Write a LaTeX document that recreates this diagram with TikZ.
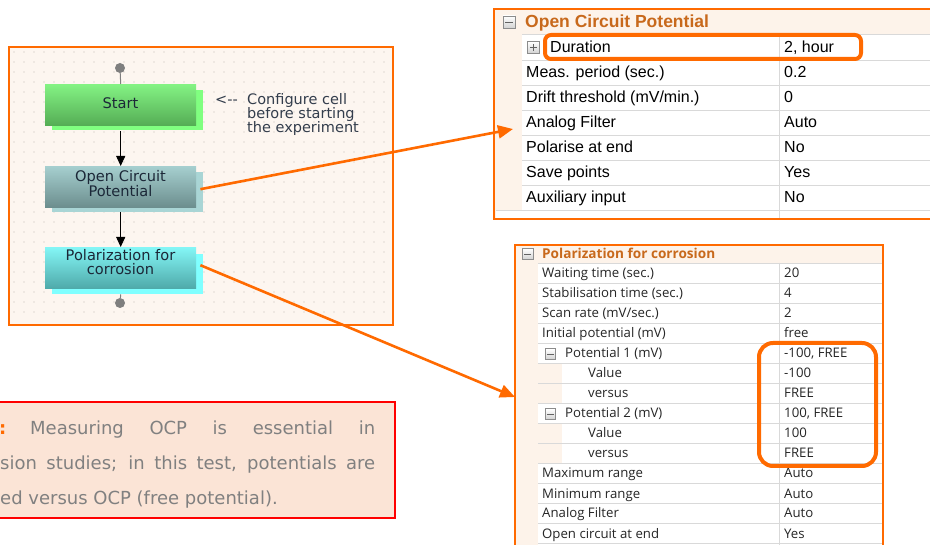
\documentclass[tikz,border=0pt]{standalone}
\usepackage{fontspec}
\setmainfont{DejaVu Sans}
\newfontfamily\arialf{Liberation Sans}
\newfontfamily\segf{Open Sans}
\usetikzlibrary{arrows.meta,calc}
\definecolor{org}{HTML}{FF6A00}
\definecolor{panelbg}{HTML}{FDF6F0}
\definecolor{dotc}{HTML}{C2BCB6}
\definecolor{tabbg}{HTML}{FDF3EA}
\definecolor{hdrc}{HTML}{C8691C}
\definecolor{rowline}{HTML}{D9D9D9}
\definecolor{notebg}{HTML}{FBE4D6}
\definecolor{notetxt}{HTML}{808080}
\definecolor{flowtxt}{HTML}{1C2838}
\definecolor{gnA}{HTML}{84F384}
\definecolor{gnB}{HTML}{55AD55}
\definecolor{gnS}{HTML}{80FF80}
\definecolor{teA}{HTML}{A6CFCF}
\definecolor{teB}{HTML}{6C8E8E}
\definecolor{teS}{HTML}{A9D5D5}
\definecolor{cyA}{HTML}{84F6F6}
\definecolor{cyB}{HTML}{4FAAAA}
\definecolor{cyS}{HTML}{80FFFF}
\definecolor{boxgray}{HTML}{8C8C8C}
\definecolor{termc}{HTML}{7F7F7F}
\tikzset{
 flowbox/.style={anchor=north west, minimum width=151pt, minimum height=41pt, inner sep=0pt},
 flowtext/.style={align=center, text=flowtxt, font=\fontsize{14.6}{14}\selectfont, inner sep=0pt},
 shadowbox/.style={anchor=north west, minimum width=151pt, minimum height=40pt, inner sep=0pt},
 termdot/.style={circle, fill=termc, inner sep=0pt, minimum size=10pt},
 cfgtext/.style={anchor=base west, inner sep=0pt, text=flowtxt!90, font=\fontsize{14.5}{14}\selectfont},
 flowarrow/.style={draw=black, line width=1pt, -{Triangle[width=9pt,length=10pt]}},
 callout/.style={draw=org, line width=2.6pt, -{Triangle[width=13pt,length=15pt]}},
 tabA/.style={anchor=base west, inner sep=0pt, text=black, font=\arialf\fontsize{16}{18}\selectfont},
 tabB/.style={anchor=base west, inner sep=0pt, text=black!85, font=\segf\fontsize{13.2}{14}\selectfont},
 notetext/.style={anchor=base west, inner sep=0pt, text=notetxt, font=\fontsize{18}{20}\selectfont},
 expminus/.pic={\draw[draw=boxgray, line width=0.8pt, top color=white, bottom color=gray!35] (-6,-6) rectangle (6,6);
   \draw[boxgray!70!black, line width=0.9pt] (-3.8,0) -- (3.8,0);},
 expplus/.pic={\draw[draw=boxgray, line width=0.8pt, top color=white, bottom color=gray!35] (-6,-6) rectangle (6,6);
   \draw[boxgray!70!black, line width=0.9pt] (-3.8,0) -- (3.8,0) (0,-3.8) -- (0,3.8);}
}
\begin{document}
\begin{tikzpicture}[x=1pt,y=-1pt]
\useasboundingbox (0,0) rectangle (930,545);
\clip (0,0) rectangle (930,545);
\fill[white] (0,0) rectangle (930,545);

% ---------------- left flow panel ----------------
\node[draw=org, line width=2pt, fill=panelbg, minimum width=384pt, minimum height=278pt, inner sep=0pt, anchor=north west] (panel) at (8,46) {};
\foreach \i in {0,...,37}{\foreach \j in {0,...,26}{\fill[dotc] (14+10*\i,52+10*\j) circle (0.6);}}

% shadows
\node[shadowbox, fill=gnS] (startsh) at (52,90) {};
\node[shadowbox, fill=teS] (ocpsh) at (52,172) {};
\node[shadowbox, fill=cyS] (polsh) at (52,254) {};
% boxes
\node[flowbox, top color=gnA, bottom color=gnB] (start) at (45,84) {};
\node[flowbox, top color=teA, bottom color=teB] (ocp) at (45,166) {};
\node[flowbox, top color=cyA, bottom color=cyB] (pol) at (45,247) {};
\node[flowtext] (startt) at (120.5,103) {Start};
\node[flowtext] (ocpt) at (120.5,183.5) {Open Circuit\\Potential};
\node[flowtext] (polt) at (120.5,262) {Polarization for\\corrosion};

\node[termdot] (d1) at (120,68) {};
\node[termdot] (d2) at (120,303) {};
\draw[termc, line width=1pt] (d1) -- (start.north);
\draw[termc, line width=1pt] (pol.south) ++(0,6) -- (d2);
\draw[flowarrow, shorten <=6pt] (start.south) -- (ocp.north);
\draw[flowarrow, shorten <=5pt] (ocp.south) -- (pol.north);

\node[cfgtext] (cfgarrow) at (215,105) {<-{}-};
\node[cfgtext] (cfg1) at (247,105) {Configure cell};
\node[cfgtext] (cfg2) at (247,119) {before starting};
\node[cfgtext] (cfg3) at (247,133) {the experiment};

% ---------------- top table: Open Circuit Potential ----------------
\draw[org, line width=2pt, fill=tabbg] (494,9) rectangle (940,219);
\fill[white] (522,34) rectangle (940,210);
\fill[white] (496,210) rectangle (940,218);
\foreach \k in {34,60,85,110,135,160,185}{\draw[rowline, line width=0.8pt] (522,\k) -- (940,\k);}
\draw[rowline, line width=0.8pt] (496,210) -- (940,210);
\draw[rowline, line width=0.8pt] (779,34) -- (779,218);
\pic at (509,22) {expminus};
\node[anchor=base west, inner sep=0pt, text=hdrc, font=\arialf\bfseries\fontsize{17.5}{20}\selectfont] (ocphdr) at (525,28) {Open Circuit Potential};
\pic[scale=0.95] at (533.5,47.5) {expplus};
\node[tabA] (r1) at (550,53) {Duration};
\node[tabA] (v1) at (784,53) {2, hour};
\foreach \n/\v [count=\i] in {{Meas. period (sec.)}/0.2, {Drift threshold (mV/min.)}/0, {Analog Filter}/Auto, {Polarise at end}/No, {Save points}/Yes, {Auxiliary input}/No}{
  \node[tabA] (ra\i) at (526,53+25*\i) {\n};
  \node[tabA] (va\i) at (784,53+25*\i) {\v};
}
\draw[org, line width=4pt, rounded corners=6pt] (545,35) rectangle (861,59);
\coordinate (ocpin) at (513,129);

% ---------------- bottom table: Polarization for corrosion ----------------
\draw[org, line width=1.6pt, fill=tabbg] (515,245) rectangle (883,560);
\fill[white] (538,263) rectangle (882,560);
\fill[tabbg] (538,363) rectangle (562,403);
\fill[tabbg] (538,423) rectangle (562,463);
\foreach \k in {263,283,...,543}{\draw[rowline, line width=0.8pt] (538,\k) -- (882,\k);}
\draw[rowline, line width=0.8pt] (779,263) -- (779,560);
\pic[scale=0.9] at (527.5,254) {expminus};
\node[anchor=base west, inner sep=0pt, text=hdrc, font=\segf\bfseries\fontsize{13.6}{14}\selectfont] (polhdr) at (542,258.5) {Polarization for corrosion};
\foreach \n/\v/\x [count=\i from 0] in {{Waiting time (sec.)}/20/542, {Stabilisation time (sec.)}/4/542, {Scan rate (mV/sec.)}/2/542, {Initial potential (mV)}/free/542, {Potential 1 (mV)}/{-100, FREE}/565, Value/-100/588, versus/FREE/588, {Potential 2 (mV)}/{100, FREE}/565, Value/100/588, versus/FREE/588, {Maximum range}/Auto/542, {Minimum range}/Auto/542, {Analog Filter}/Auto/542, {Open circuit at end}/Yes/542}{
  \node[tabB] (rb\i) at (\x,278+20*\i) {\n};
  \node[tabB] (vb\i) at (784,278+20*\i) {\v};
}
\pic[scale=0.85] at (550.5,354) {expminus};
\pic[scale=0.85] at (550.5,414) {expminus};
\draw[org, line width=4pt, rounded corners=14pt] (759,343) rectangle (876,466);
\coordinate (polin) at (515,397);

% ---------------- callout arrows ----------------
\draw[callout] ($(ocp.east)+(4,2.5)$) -- (ocpin);
\draw[callout] ($(pol.east)+(4,-2.5)$) -- (polin);

% ---------------- note ----------------
\node[draw=red, line width=2pt, fill=notebg, minimum width=410pt, minimum height=116pt, inner sep=0pt, anchor=north east] (note) at (396,401) {};
\node[anchor=base west, inner sep=0pt, text=org, font=\bfseries\fontsize{18}{20}\selectfont] (colon) at (-1,435) {:};
\node[notetext] (n1) at (30,435) {\makebox[345pt][s]{Measuring OCP is essential in}};
\node[notetext] (n2) at (0,470) {\makebox[375pt][s]{sion studies; in this test, potentials are}};
\node[notetext] (n3) at (0,504) {ed versus OCP (free potential).};
\end{tikzpicture}
\end{document}
